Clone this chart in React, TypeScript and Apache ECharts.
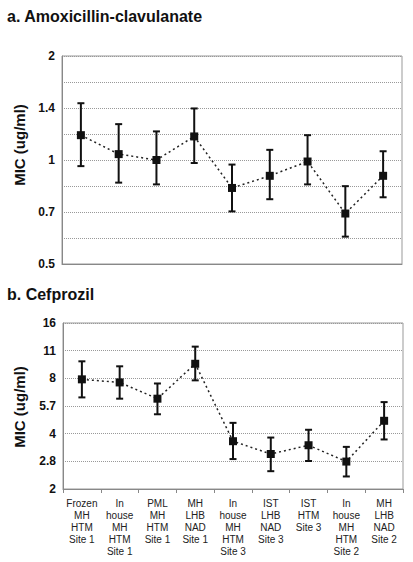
import React, { useEffect, useRef } from "react";
import * as echarts from "echarts";

const categories = [
  "Frozen\nMH\nHTM\nSite 1",
  "In\nhouse\nMH\nHTM\nSite 1",
  "PML\nMH\nHTM\nSite 1",
  "MH\nLHB\nNAD\nSite 1",
  "In\nhouse\nMH\nHTM\nSite 3",
  "IST\nLHB\nNAD\nSite 3",
  "IST\nHTM\nSite 3",
  "In\nhouse\nMH\nHTM\nSite 2",
  "MH\nLHB\nNAD\nSite 2",
];

const amoxMean = [1.18, 1.04, 1.0, 1.17, 0.83, 0.9, 0.99, 0.7, 0.9];
const amoxLow = [0.96, 0.86, 0.85, 0.98, 0.71, 0.77, 0.85, 0.6, 0.78];
const amoxHigh = [1.46, 1.27, 1.21, 1.41, 0.97, 1.07, 1.18, 0.84, 1.06];

const cefMean = [7.9, 7.6, 6.2, 9.6, 3.64, 3.1, 3.46, 2.82, 4.7];
const cefLow = [6.3, 6.2, 5.1, 7.8, 2.91, 2.5, 2.84, 2.34, 3.72];
const cefHigh = [9.9, 9.3, 7.5, 11.9, 4.58, 3.81, 4.2, 3.39, 5.94];

const amoxTicks = ["0.5", "", "0.7", "", "1", "", "1.4", "", "2"];
const cefTicks = ["2", "2.8", "4", "5.7", "8", "11", "16"];

const FONT = "'Liberation Sans', Arial, Helvetica, sans-serif";

function errorSeries(low: number[], high: number[], idx: number) {
  const data = low.map((l, i) => [i, Math.log2(l), Math.log2(high[i])]);
  return {
    type: "custom",
    xAxisIndex: idx,
    yAxisIndex: idx,
    data,
    z: 3,
    renderItem: (params: any, api: any) => {
      const x = api.value(0);
      const pl = api.coord([x, api.value(1)]);
      const ph = api.coord([x, api.value(2)]);
      const hw = 3.5;
      const style = { stroke: "#111", lineWidth: 2 };
      return {
        type: "group",
        children: [
          { type: "line", shape: { x1: pl[0], y1: pl[1], x2: ph[0], y2: ph[1] }, style },
          { type: "line", shape: { x1: pl[0] - hw, y1: pl[1], x2: pl[0] + hw, y2: pl[1] }, style },
          { type: "line", shape: { x1: ph[0] - hw, y1: ph[1], x2: ph[0] + hw, y2: ph[1] }, style },
        ],
      };
    },
  };
}

function lineSeries(mean: number[], idx: number) {
  return {
    type: "line",
    xAxisIndex: idx,
    yAxisIndex: idx,
    data: mean.map((v) => Math.log2(v)),
    symbol: "rect",
    symbolSize: 8,
    z: 4,
    itemStyle: { color: "#111" },
    lineStyle: { color: "#222", width: 1.5, type: [2, 3] },
  };
}

const splitLine = { show: true, lineStyle: { color: "#999", width: 1, type: [1, 1] } };
const axisLineGray = { show: true, onZero: false, lineStyle: { color: "#888", width: 1 } };

export default function App() {
  const ref = useRef<HTMLDivElement>(null);
  useEffect(() => {
    if (!ref.current) return;
    const chart = echarts.init(ref.current, undefined, { renderer: "svg" });
    chart.setOption({
      animation: false,
      backgroundColor: "#fff",
      title: [
        {
          text: "a. Amoxicillin-clavulanate",
          left: 7,
          top: 8,
          padding: 0,
          textStyle: { fontFamily: FONT, fontSize: 16, fontWeight: "bold", color: "#111" },
        },
        {
          text: "b. Cefprozil",
          left: 7,
          top: 286,
          padding: 0,
          textStyle: { fontFamily: FONT, fontSize: 16, fontWeight: "bold", color: "#111" },
        },
      ],
      graphic: [
        {
          type: "text",
          x: 19,
          y: 145,
          rotation: Math.PI / 2,
          style: {
            text: "MIC (ug/ml)",
            font: `bold 15px ${FONT}`,
            fill: "#111",
            textAlign: "center",
            textVerticalAlign: "middle",
          },
        },
        {
          type: "text",
          x: 19,
          y: 407,
          rotation: Math.PI / 2,
          style: {
            text: "MIC (ug/ml)",
            font: `bold 15px ${FONT}`,
            fill: "#111",
            textAlign: "center",
            textVerticalAlign: "middle",
          },
        },
      ],
      grid: [
        { left: 62, top: 56, width: 340, height: 208, show: true, borderColor: "#999", borderWidth: 1 },
        { left: 63, top: 323, width: 340, height: 166, show: true, borderColor: "#999", borderWidth: 1 },
      ],
      xAxis: [
        {
          type: "category",
          gridIndex: 0,
          data: categories,
          boundaryGap: true,
          axisLine: axisLineGray,
          axisTick: { show: false },
          axisLabel: { show: false },
        },
        {
          type: "category",
          gridIndex: 1,
          data: categories,
          boundaryGap: true,
          axisLine: axisLineGray,
          axisTick: { show: true, length: 4, lineStyle: { color: "#888" } },
          axisLabel: {
            interval: 0,
            margin: 8,
            fontFamily: FONT,
            fontSize: 10,
            lineHeight: 12.2,
            color: "#222",
          },
        },
      ],
      yAxis: [
        {
          type: "value",
          gridIndex: 0,
          min: -1,
          max: 1,
          interval: 0.25,
          axisLine: axisLineGray,
          axisTick: { show: false },
          splitLine,
          axisLabel: {
            margin: 7,
            fontFamily: FONT,
            fontSize: 12,
            fontWeight: "bold",
            color: "#111",
            formatter: (v: number) => amoxTicks[Math.round((v + 1) / 0.25)] ?? "",
          },
        },
        {
          type: "value",
          gridIndex: 1,
          min: 1,
          max: 4,
          interval: 0.5,
          axisLine: axisLineGray,
          axisTick: { show: false },
          splitLine,
          axisLabel: {
            margin: 7,
            fontFamily: FONT,
            fontSize: 12,
            fontWeight: "bold",
            color: "#111",
            formatter: (v: number) => cefTicks[Math.round((v - 1) / 0.5)] ?? "",
          },
        },
      ],
      series: [
        errorSeries(amoxLow, amoxHigh, 0),
        lineSeries(amoxMean, 0),
        errorSeries(cefLow, cefHigh, 1),
        lineSeries(cefMean, 1),
      ],
    });
    return () => chart.dispose();
  }, []);
  return (
    <div
      ref={ref}
      style={{ position: "fixed", left: 0, top: 0, width: 413, height: 562, background: "#fff" }}
    />
  );
}
